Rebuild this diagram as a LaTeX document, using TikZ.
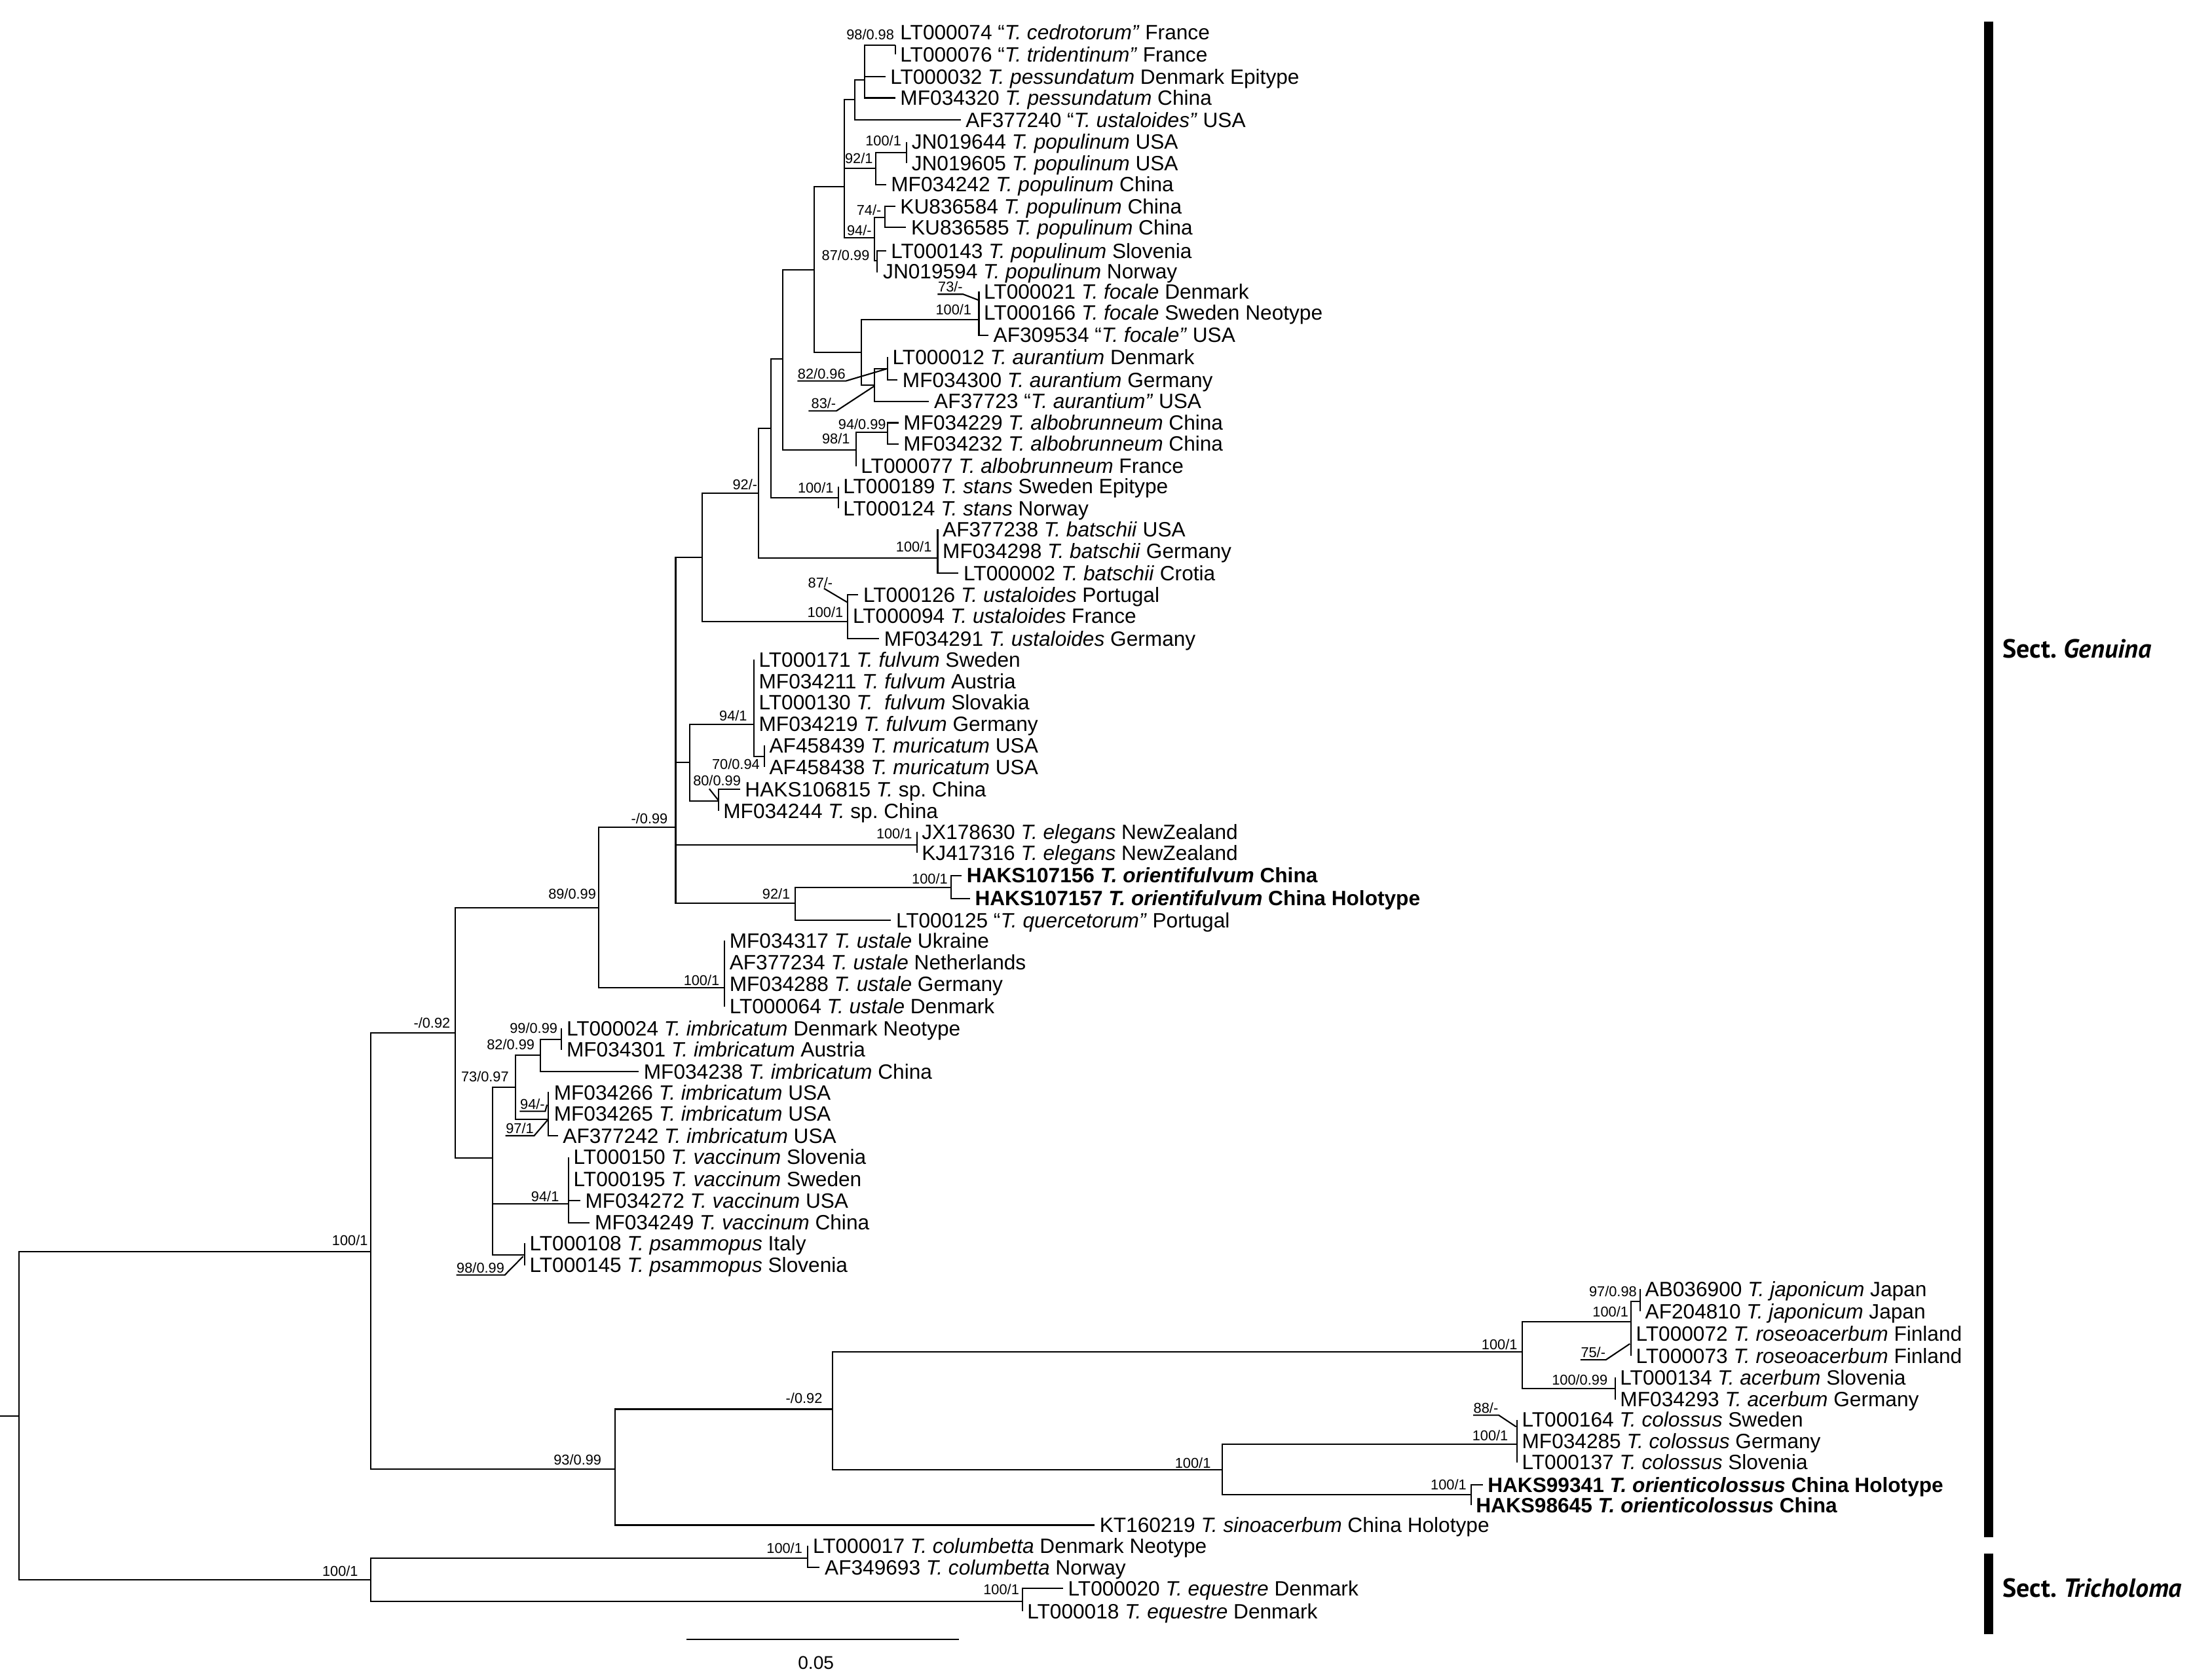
\documentclass[tikz,border=0pt]{standalone}
\usepackage{fontspec}
\setmainfont{Liberation Sans}
\newfontfamily\sectfont{PT Sans}
\newcommand{\tipsize}{\fontsize{9pt}{10pt}\selectfont}
\newcommand{\bssize}{\fontsize{6.2pt}{7pt}\selectfont}

\begin{document}
\frenchspacing
\begin{tikzpicture}[
      x=0.21352mm,y=-0.21352mm,
      br/.style={draw=black,line width=0.6pt},
      tip/.style={anchor=west,font=\tipsize,inner xsep=2pt,inner ysep=0pt,
        text height=6.4pt,text depth=0pt},
      tipb/.style={tip,font=\tipsize\bfseries},
      bs/.style={anchor=east,font=\bssize,inner sep=0pt,
        text height=4.4pt,text depth=0pt},
      ul/.style={anchor=south west,font=\bssize,inner xsep=0pt,
        inner ysep=0.8pt,text height=4.4pt,text depth=0pt},
      secbar/.style={draw=black,line width=4pt},
      sect/.style={anchor=west,inner sep=0pt,
        font={\sectfont\bfseries\fontsize{11.4pt}{13pt}\selectfont}}
    ]
    \useasboundingbox (0,0) rectangle (1568,1201);

    % inner nodes
    \coordinate (rootstub) at (0,1012.5);
    \coordinate (root) at (13.6,1012.5);
    \coordinate (gen) at (264.9,894.8);
    \coordinate (tri) at (264.9,1129.5);
    \coordinate (a325) at (325.3,738.4);
    \coordinate (a428) at (428,649);
    \coordinate (a483) at (483.1,591.7);
    \coordinate (a502) at (502,398.5);
    \coordinate (a542) at (542.5,352.5);
    \coordinate (a551) at (551.1,306.4);
    \coordinate (a560) at (559.7,256.8);
    \coordinate (a582) at (582.3,192.8);
    \coordinate (a604) at (603.8,133.5);
    \coordinate (a611) at (611.2,71);
    \coordinate (a618) at (618.2,57);
    \coordinate (a640) at (640.1,32.5);
    \coordinate (a626) at (626,120.2);
    \coordinate (a648) at (648.2,109);
    \coordinate (a625) at (625.2,170.2);
    \coordinate (a632) at (632.6,155.3);
    \coordinate (a627) at (627.2,186.6);
    \coordinate (a616) at (615.9,252.1);
    \coordinate (foc) at (699.9,228.7);
    \coordinate (aur) at (625.2,275.5);
    \coordinate (aur2) at (634.6,263.8);
    \coordinate (alb) at (612,321.6);
    \coordinate (alb2) at (634.5,309.1);
    \coordinate (stans) at (599.3,356);
    \coordinate (bat) at (670.4,398.9);
    \coordinate (ustd) at (606.2,444.6);
    \coordinate (a493) at (493.3,545.2);
    \coordinate (ful) at (539,518);
    \coordinate (mur) at (546.5,540.9);
    \coordinate (sp) at (513.6,572.6);
    \coordinate (ele) at (655.5,604.2);
    \coordinate (a568) at (568.4,646);
    \coordinate (ori) at (679.9,634.6);
    \coordinate (ust) at (518,706.4);
    \coordinate (a352) at (352.1,828);
    \coordinate (a368) at (368.4,777.4);
    \coordinate (imb) at (386.4,754.3);
    \coordinate (imb2) at (401.5,743.1);
    \coordinate (imbU) at (391.8,800.5);
    \coordinate (vac) at (406.5,860.6);
    \coordinate (psa) at (375.1,897.3);
    \coordinate (a439) at (439.6,1050.6);
    \coordinate (a595) at (595.3,1007.6);
    \coordinate (a1088) at (1088.2,966.7);
    \coordinate (a1166) at (1166.1,945.3);
    \coordinate (jap) at (1172.7,930.4);
    \coordinate (ace) at (1154.8,992.9);
    \coordinate (a874) at (874,1051);
    \coordinate (col) at (1084.6,1032.7);
    \coordinate (orc) at (1051.7,1068.6);
    \coordinate (clb) at (577.6,1114);
    \coordinate (equ) at (730.9,1145);

    % tips
    \node[tip] (LT000074) at (640.1,23) {LT000074 “\textit{T. cedrotorum”} France};
    \node[tip] (LT000076) at (640.1,39) {LT000076 “\textit{T. tridentinum”} France};
    \node[tip] (LT000032) at (633,55) {LT000032 \textit{T. pessundatum} Denmark Epitype};
    \node[tip] (MF034320) at (640.1,70) {MF034320 \textit{T. pessundatum} China};
    \node[tip] (AF377240) at (686.9,85.9) {AF377240 “\textit{T. ustaloides”} USA};
    \node[tip] (JN019644) at (648.2,101.5) {JN019644 \textit{T. populinum} USA};
    \node[tip] (JN019605) at (648.2,116.5) {JN019605 \textit{T. populinum} USA};
    \node[tip] (MF034242) at (633.5,131.9) {MF034242 \textit{T. populinum} China};
    \node[tip] (KU836584) at (640.1,147.7) {KU836584 \textit{T. populinum} China};
    \node[tip] (KU836585) at (647.9,162.5) {KU836585 \textit{T. populinum} China};
    \node[tip] (LT000143) at (633.5,179.3) {LT000143 \textit{T. populinum} Slovenia};
    \node[tip] (JN019594) at (627.8,194.1) {JN019594 \textit{T. populinum} Norway};
    \node[tip] (LT000021) at (699.9,208.4) {LT000021 \textit{T. focale} Denmark};
    \node[tip] (LT000166) at (699.9,223.5) {LT000166 \textit{T. focale} Sweden Neotype};
    \node[tip] (AF309534) at (706.7,239.6) {AF309534 “\textit{T. focale”} USA};
    \node[tip] (LT000012) at (634.6,255.3) {LT000012 \textit{T. aurantium} Denmark};
    \node[tip] (MF034300) at (641.7,271.7) {MF034300 \textit{T. aurantium} Germany};
    \node[tip] (AF37723) at (664.3,286.9) {AF37723 “\textit{T. aurantium”} USA};
    \node[tip] (MF034229) at (642.4,302.3) {MF034229 \textit{T. albobrunneum} China};
    \node[tip] (MF034232) at (642.4,317.4) {MF034232 \textit{T. albobrunneum} China};
    \node[tip] (LT000077) at (612,333.3) {LT000077 \textit{T. albobrunneum} France};
    \node[tip] (LT000189) at (599.3,347.8) {LT000189 \textit{T. stans} Sweden Epitype};
    \node[tip] (LT000124) at (599.3,363.5) {LT000124 \textit{T. stans} Norway};
    \node[tip] (AF377238) at (670.4,378.5) {AF377238 \textit{T. batschii} USA};
    \node[tip] (MF034298) at (670.4,394) {MF034298 \textit{T. batschii} Germany};
    \node[tip] (LT000002) at (685.4,409.8) {LT000002 \textit{T. batschii} Crotia};
    \node[tip] (LT000126) at (613.7,425.4) {LT000126 \textit{T. ustaloides} Portugal};
    \node[tip] (LT000094) at (606.2,440.5) {LT000094 \textit{T. ustaloides} France};
    \node[tip] (MF034291) at (628.6,456.6) {MF034291 \textit{T. ustaloides} Germany};
    \node[tip] (LT000171) at (539,471.5) {LT000171 \textit{T. fulvum} Sweden};
    \node[tip] (MF034211) at (539,487) {MF034211 \textit{T. fulvum} Austria};
    \node[tip] (LT000130) at (539,502) {LT000130 \textit{T.\ \ fulvum} Slovakia};
    \node[tip] (MF034219) at (539,517.5) {MF034219 \textit{T. fulvum} Germany};
    \node[tip] (AF458439) at (546.5,533) {AF458439 \textit{T. muricatum} USA};
    \node[tip] (AF458438) at (546.5,548.5) {AF458438 \textit{T. muricatum} USA};
    \node[tip] (HAKS106815) at (529.1,564.4) {HAKS106815 \textit{T.} sp. China};
    \node[tip] (MF034244) at (513.6,580) {MF034244 \textit{T.} sp. China};
    \node[tip] (JX178630) at (655.5,595) {JX178630 \textit{T. elegans} NewZealand};
    \node[tip] (KJ417316) at (655.5,610) {KJ417316 \textit{T. elegans} NewZealand};
    \node[tipb] (HAKS107156) at (687.6,626) {HAKS107156 \textit{T. orientifulvum} China};
    \node[tipb] (HAKS107157) at (693.5,642.4) {HAKS107157 \textit{T. orientifulvum} China Holotype};
    \node[tip] (LT000125) at (637.1,658) {LT000125 “\textit{T. quercetorum”} Portugal};
    \node[tip] (MF034317) at (518,672.5) {MF034317 \textit{T. ustale} Ukraine};
    \node[tip] (AF377234) at (518,688) {AF377234 \textit{T. ustale} Netherlands};
    \node[tip] (MF034288) at (518,703.5) {MF034288 \textit{T. ustale} Germany};
    \node[tip] (LT000064) at (518,719.7) {LT000064 \textit{T. ustale} Denmark};
    \node[tip] (LT000024) at (401.5,735.3) {LT000024 \textit{T. imbricatum} Denmark Neotype};
    \node[tip] (MF034301) at (401.5,750.6) {MF034301 \textit{T. imbricatum} Austria};
    \node[tip] (MF034238) at (456.7,766.2) {MF034238 \textit{T. imbricatum} China};
    \node[tip] (MF034266) at (392.5,781.3) {MF034266 \textit{T. imbricatum} USA};
    \node[tip] (MF034265) at (392.5,796.5) {MF034265 \textit{T. imbricatum} USA};
    \node[tip] (AF377242) at (398.9,812.1) {AF377242 \textit{T. imbricatum} USA};
    \node[tip] (LT000150) at (406.5,827.4) {LT000150 \textit{T. vaccinum} Slovenia};
    \node[tip] (LT000195) at (406.5,843) {LT000195 \textit{T. vaccinum} Sweden};
    \node[tip] (MF034272) at (414.9,858.6) {MF034272 \textit{T. vaccinum} USA};
    \node[tip] (MF034249) at (421.7,874.2) {MF034249 \textit{T. vaccinum} China};
    \node[tip] (LT000108) at (375.1,889) {LT000108 \textit{T. psammopus} Italy};
    \node[tip] (LT000145) at (375.1,904.7) {LT000145 \textit{T. psammopus} Slovenia};
    \node[tip] (AB036900) at (1172.7,921.8) {AB036900 \textit{T. japonicum} Japan};
    \node[tip] (AF204810) at (1172.7,937.5) {AF204810 \textit{T. japonicum} Japan};
    \node[tip] (LT000072) at (1166.1,953.8) {LT000072 \textit{T. roseoacerbum} Finland};
    \node[tip] (LT000073) at (1166.1,969.5) {LT000073 \textit{T. roseoacerbum} Finland};
    \node[tip] (LT000134) at (1154.8,985) {LT000134 \textit{T. acerbum} Slovenia};
    \node[tip] (MF034293) at (1154.8,1000.6) {MF034293 \textit{T. acerbum} Germany};
    \node[tip] (LT000164) at (1084.6,1015.2) {LT000164 \textit{T. colossus} Sweden};
    \node[tip] (MF034285) at (1084.6,1030.5) {MF034285 \textit{T. colossus} Germany};
    \node[tip] (LT000137) at (1084.6,1045.6) {LT000137 \textit{T. colossus} Slovenia};
    \node[tipb] (HAKS99341) at (1060.1,1061.6) {HAKS99341 \textit{T. orienticolossus} China Holotype};
    \node[tipb] (HAKS98645) at (1051.7,1076.4) {HAKS98645 \textit{T. orienticolossus} China};
    \node[tip] (KT160219) at (782.6,1090.5) {KT160219 \textit{T. sinoacerbum} China Holotype};
    \node[tip] (LT000017) at (577.6,1105.3) {LT000017 \textit{T. columbetta} Denmark Neotype};
    \node[tip] (AF349693) at (586.1,1120.9) {AF349693 \textit{T. columbetta} Norway};
    \node[tip] (LT000020) at (760.1,1135.7) {LT000020 \textit{T. equestre} Denmark};
    \node[tip] (LT000018) at (730.9,1152.1) {LT000018 \textit{T. equestre} Denmark};

    % branches
    \draw[br] (rootstub) -- (root);
    \draw[br] (root) |- (gen) (root) |- (tri);
    \draw[br] (gen) |- (a325) (gen) |- (a439);
    \draw[br] (a325) |- (a428) (a325) |- (a352);
    \draw[br] (a428) |- (a483) (a428) |- (ust);
    \draw[br] (a483) |- (a502) (a483) |- (a493) (a483) |- (ele) (a483) |- (a568);
    \draw[br] (a502) |- (a542) (a502) |- (ustd);
    \draw[br] (a542) |- (a551) (a542) |- (bat);
    \draw[br] (a551) |- (a560) (a551) |- (stans);
    \draw[br] (a560) |- (a582) (a560) |- (alb);
    \draw[br] (a582) |- (a604) (a582) |- (a616);
    \draw[br] (a604) |- (a611) (a604) |- (a626) (a604) |- (a625);
    \draw[br] (a611) |- (a618) (a611) |- (AF377240.west);
    \draw[br] (a618) |- (a640) (a618) |- (LT000032.west) (a618) |- (MF034320.west);
    \draw[br] (a640) |- (LT000076.west);
    \draw[br] (a626) |- (a648) (a626) |- (MF034242.west);
    \draw[br] (a648) |- (JN019644.west) (a648) |- (JN019605.west);
    \draw[br] (a625) |- (a632) (a625) |- (a627);
    \draw[br] (a632) |- (KU836584.west) (a632) |- (KU836585.west);
    \draw[br] (a627) |- (LT000143.west) (a627) |- (JN019594.west);
    \draw[br] (a616) |- (foc) (a616) |- (aur);
    \draw[br] (foc) |- (LT000021.west) (foc) |- (LT000166.west) (foc) |- (AF309534.west);
    \draw[br] (aur) |- (aur2) (aur) |- (AF37723.west);
    \draw[br] (aur2) |- (LT000012.west) (aur2) |- (MF034300.west);
    \draw[br] (alb) |- (alb2) (alb) |- (LT000077.west);
    \draw[br] (alb2) |- (MF034229.west) (alb2) |- (MF034232.west);
    \draw[br] (stans) |- (LT000189.west) (stans) |- (LT000124.west);
    \draw[br] (bat) |- (AF377238.west) (bat) |- (MF034298.west) (bat) |- (LT000002.west);
    \draw[br] (ustd) |- (LT000126.west) (ustd) |- (LT000094.west) (ustd) |- (MF034291.west);
    \draw[br] (a493) |- (ful) (a493) |- (sp);
    \draw[br] (ful) |- (LT000171.west) (ful) |- (MF034211.west) (ful) |- (LT000130.west)
      (ful) |- (MF034219.west) (ful) |- (mur);
    \draw[br] (mur) |- (AF458439.west) (mur) |- (AF458438.west);
    \draw[br] (sp) |- (HAKS106815.west) (sp) |- (MF034244.west);
    \draw[br] (ele) |- (JX178630.west) (ele) |- (KJ417316.west);
    \draw[br] (a568) |- (ori) (a568) |- (LT000125.west);
    \draw[br] (ori) |- (HAKS107156.west) (ori) |- (HAKS107157.west);
    \draw[br] (ust) |- (MF034317.west) (ust) |- (AF377234.west) (ust) |- (MF034288.west)
      (ust) |- (LT000064.west);
    \draw[br] (a352) |- (a368) (a352) |- (vac) (a352) |- (psa);
    \draw[br] (a368) |- (imb) (a368) |- (imbU);
    \draw[br] (imb) |- (imb2) (imb) |- (MF034238.west);
    \draw[br] (imb2) |- (LT000024.west) (imb2) |- (MF034301.west);
    \draw[br] (imbU) |- (MF034266.west) (imbU) |- (MF034265.west) (imbU) |- (AF377242.west);
    \draw[br] (vac) |- (LT000150.west) (vac) |- (LT000195.west) (vac) |- (MF034272.west)
      (vac) |- (MF034249.west);
    \draw[br] (psa) |- (LT000108.west) (psa) |- (LT000145.west);
    \draw[br] (a439) |- (a595) (a439) |- (KT160219.west);
    \draw[br] (a595) |- (a1088) (a595) |- (a874);
    \draw[br] (a1088) |- (a1166) (a1088) |- (ace);
    \draw[br] (a1166) |- (jap) (a1166) |- (LT000072.west) (a1166) |- (LT000073.west);
    \draw[br] (jap) |- (AB036900.west) (jap) |- (AF204810.west);
    \draw[br] (ace) |- (LT000134.west) (ace) |- (MF034293.west);
    \draw[br] (a874) |- (col) (a874) |- (orc);
    \draw[br] (col) |- (LT000164.west) (col) |- (MF034285.west) (col) |- (LT000137.west);
    \draw[br] (orc) |- (HAKS99341.west) (orc) |- (HAKS98645.west);
    \draw[br] (tri) |- (clb) (tri) |- (equ);
    \draw[br] (clb) |- (LT000017.west) (clb) |- (AF349693.west);
    \draw[br] (equ) |- (LT000020.west) (equ) |- (LT000018.west);

    % support values
    \node[bs] (s640) at (639.6,24.7) {98/0.98};
    \node[bs] (s648) at (644.7,100.7) {100/1};
    \node[bs] (s626) at (624.4,113.2) {92/1};
    \node[bs] (s632) at (630.4,150.3) {74/-};
    \node[bs] (s625) at (623.5,164.7) {94/-};
    \node[bs] (s627) at (622,182.6) {87/0.99};
    \node[bs] (sfoc) at (694.9,221.6) {100/1};
    \node[bs] (salb2) at (633.8,303.6) {94/0.99};
    \node[bs] (salb) at (608,313.8) {98/1};
    \node[bs] (s542) at (541.8,346.6) {92/-};
    \node[bs] (sstans) at (596.3,348.9) {100/1};
    \node[bs] (sbat) at (666.5,391) {100/1};
    \node[bs] (sustd) at (603.2,437.9) {100/1};
    \node[bs] (sful) at (534.5,512) {94/1};
    \node[bs] (smur) at (543.5,546.4) {70/0.94};
    \node[bs] (s483) at (477.7,585.4) {-/0.99};
    \node[bs] (sele) at (652.5,596.2) {100/1};
    \node[bs] (sori) at (677.9,628.4) {100/1};
    \node[bs] (s568) at (565.3,639.3) {92/1};
    \node[bs] (s428) at (426.5,639) {89/0.99};
    \node[bs] (sust) at (514.7,701) {100/1};
    \node[bs] (s325) at (322.2,731.4) {-/0.92};
    \node[bs] (simb2) at (398.9,735.3) {99/0.99};
    \node[bs] (simb) at (382.5,747) {82/0.99};
    \node[bs] (s368) at (364.1,769.6) {73/0.97};
    \node[bs] (svac) at (400,855.5) {94/1};
    \node[bs] (sgen) at (263.3,886.8) {100/1};
    \node[bs] (sjap) at (1170.6,923.4) {97/0.98};
    \node[bs] (s1166) at (1164.6,937.9) {100/1};
    \node[bs] (s1088) at (1085.2,961.6) {100/1};
    \node[bs] (sace) at (1149.7,986.6) {100/0.99};
    \node[bs] (s595) at (588.3,999.7) {-/0.92};
    \node[bs] (scol) at (1078.6,1026.4) {100/1};
    \node[bs] (s439) at (430.3,1043.7) {93/0.99};
    \node[bs] (s874) at (866,1046) {100/1};
    \node[bs] (sorc) at (1048.8,1061.6) {100/1};
    \node[bs] (sclb) at (574,1107) {100/1};
    \node[bs] (stri) at (256.3,1123.4) {100/1};
    \node[bs] (sequ) at (729,1136.5) {100/1};

    % support values with leaders
    \node[bs] (s87) at (595.7,416.8) {87/-};
    \coordinate (l87) at (606.2,430.9);
    \draw[br] ([xshift=-4pt]s87.south east) -- (l87);
    \node[bs] (s80) at (530,558.1) {80/0.99};
    \coordinate (l80) at (513.6,572.2);
    \draw[br] ([xshift=-13.9pt,yshift=-1.2pt]s80.south east) -- (l80);
    \node[ul] (s73) at (670.4,210.4) {73/-};
    \coordinate (l73) at (699.9,214.7);
    \draw[br] (s73.south west) -- (s73.south east) -- (l73);
    \node[ul] (s82) at (570.1,272.4) {82/0.96};
    \coordinate (l82) at (633.8,263.8);
    \draw[br] (s82.south west) -- (s82.south east) -- (l82);
    \node[ul] (s83) at (578.1,293.8) {\,83/-};
    \coordinate (l83) at (625.2,276);
    \draw[br] (s83.south west) -- (s83.south east) -- (l83);
    \node[ul] (s94) at (371.6,794.6) {94/-};
    \coordinate (l94) at (391.1,789.9);
    \draw[br] (s94.south west) -- (s94.south east) -- (l94);
    \node[ul] (s97) at (361.4,812.1) {97/1};
    \coordinate (l97) at (391.5,800.9);
    \draw[br] (s97.south west) -- (s97.south east) -- (l97);
    \node[ul] (s98) at (326.2,911.7) {98/0.99};
    \coordinate (l98) at (374,898.4);
    \draw[br] (s98.south west) -- (s98.south east) -- (l98);
    \node[ul] (s75) at (1130,972.3) {75/-};
    \coordinate (l75) at (1165.3,960.9);
    \draw[br] (s75.south west) -- (s75.south east) -- (l75);
    \node[ul] (s88) at (1053.3,1011.9) {88/-};
    \coordinate (l88) at (1084,1020.2);
    \draw[br] (s88.south west) -- (s88.south east) -- (l88);

    % scale bar
    \coordinate (sbl) at (491,1172.4);
    \coordinate (sbr) at (685.5,1172.4);
    \draw[br] (sbl) -- (sbr);
    \node[font=\fontsize{8pt}{9pt}\selectfont,inner sep=0pt] (sbt) at (583.4,1188.8) {0.05};

    % sections
    \draw[secbar] (1422,15.4) -- (1422,1099.3);
    \draw[secbar] (1422,1110.8) -- (1422,1168.5);
    \node[sect] (genuina) at (1431.6,464.1) {Sect. \textit{Genuina}};
    \node[sect] (tricholoma) at (1431.6,1135.4) {Sect. \textit{Tricholoma}};
  \end{tikzpicture}
\end{document}
